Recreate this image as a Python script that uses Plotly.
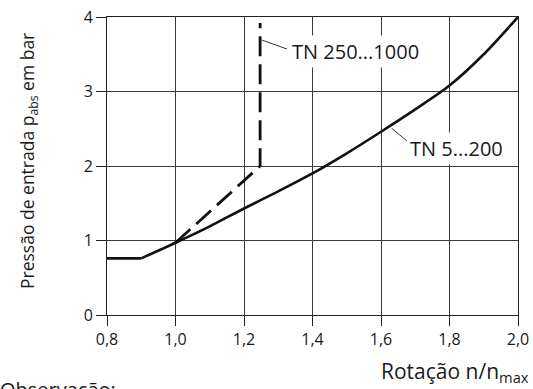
import plotly.graph_objects as go

# Data
x_flat = [0.8, 0.9]
y_flat = [0.76, 0.76]
x_tn5 = [0.9, 1.0, 1.1, 1.2, 1.3, 1.4, 1.5, 1.6, 1.7, 1.8, 1.9, 2.0]
y_tn5 = [0.76, 0.97, 1.19, 1.43, 1.66, 1.90, 2.17, 2.46, 2.76, 3.08, 3.50, 4.0]
x_tn250 = [1.0, 1.1, 1.2, 1.247, 1.247]
y_tn250 = [0.97, 1.39, 1.81, 2.0, 3.92]
x_ticks = [0.8, 1.0, 1.2, 1.4, 1.6, 1.8, 2.0]
x_ticklabels = ["0,8", "1,0", "1,2", "1,4", "1,6", "1,8", "2,0"]
y_ticks = [0, 1, 2, 3, 4]
y_ticklabels = ["0", "1", "2", "3", "4"]
label_tn250 = "TN 250...1000"
label_tn5 = "TN 5...200"

FONT = "Open Sans, sans-serif"
TXT = "#1a1a1a"

W, H = 533, 389
PL, PR, PT, PB = 107, 518, 17, 315  # plot area in window pixels
L, T = PL, PT
R = W - PR
B = H - PB
pw, ph = PR - PL, PB - PT

def px(xw):
    return (xw - PL) / pw

def py(yw):
    return (PB - yw) / ph

fig = go.Figure()
fig.add_trace(go.Scatter(x=x_flat, y=y_flat, mode="lines", line=dict(color="#111", width=2.6),
                         showlegend=False, hoverinfo="skip"))
fig.add_trace(go.Scatter(x=x_tn5, y=y_tn5, mode="lines", line=dict(color="#111", width=2.6, shape="spline", smoothing=0.8),
                         showlegend=False, hoverinfo="skip"))
fig.add_trace(go.Scatter(x=x_tn250, y=y_tn250, mode="lines", line=dict(color="#111", width=2.8, dash="20px,8px"),
                         showlegend=False, hoverinfo="skip"))

# leader lines
fig.add_shape(type="line", x0=1.2526, y0=3.69, x1=1.3255, y1=3.57, line=dict(color="#333", width=1))
fig.add_shape(type="line", x0=1.631, y0=2.506, x1=1.675, y1=2.34, line=dict(color="#333", width=1))

fig.add_annotation(x=1.33, y=3.54, text=label_tn250, showarrow=False, xanchor="left", yanchor="middle",
                   font=dict(family=FONT, size=20, color=TXT), bgcolor="white", borderpad=2)
fig.add_annotation(x=1.675, y=2.24, text=label_tn5, showarrow=False, xanchor="left", yanchor="middle",
                   font=dict(family=FONT, size=20, color=TXT), bgcolor="white", borderpad=2)

fig.add_annotation(xref="paper", yref="paper", x=px(28), y=py(161),
                   text="Pressão de entrada p<sub>abs</sub> em bar", textangle=-90, showarrow=False,
                   xanchor="center", yanchor="middle", font=dict(family=FONT, size=17.5, color=TXT))
fig.add_annotation(xref="paper", yref="paper", x=px(531), y=py(372),
                   text="Rotação n/n<sub>max</sub>", showarrow=False,
                   xanchor="right", yanchor="middle", font=dict(family=FONT, size=21, color=TXT))
fig.add_annotation(xref="paper", yref="paper", x=px(-2), y=py(374),
                   text="Observação:", showarrow=False,
                   xanchor="left", yanchor="top", font=dict(family=FONT, size=20, color=TXT))

axis_common = dict(showgrid=True, gridcolor="#3a3a3a", gridwidth=1, showline=True, linecolor="#222", linewidth=1,
                   mirror=True, ticks="outside", ticklen=10, tickcolor="#222", tickwidth=1, zeroline=False,
                   automargin=False, ticklabeloverflow="allow",
                   tickfont=dict(family=FONT, size=16, color=TXT))

fig.update_xaxes(range=[0.8, 2.0], tickvals=x_ticks, ticktext=x_ticklabels, **axis_common)
fig.update_yaxes(range=[0, 4], tickvals=y_ticks, ticktext=y_ticklabels, **axis_common)

fig.update_layout(width=W, height=H, margin=dict(l=L, r=R, t=T, b=B), plot_bgcolor="white", paper_bgcolor="white")
fig.write_html("out.html", config={"displayModeBar": False},
               post_script="document.body.style.margin='0';document.body.style.overflow='hidden';")
